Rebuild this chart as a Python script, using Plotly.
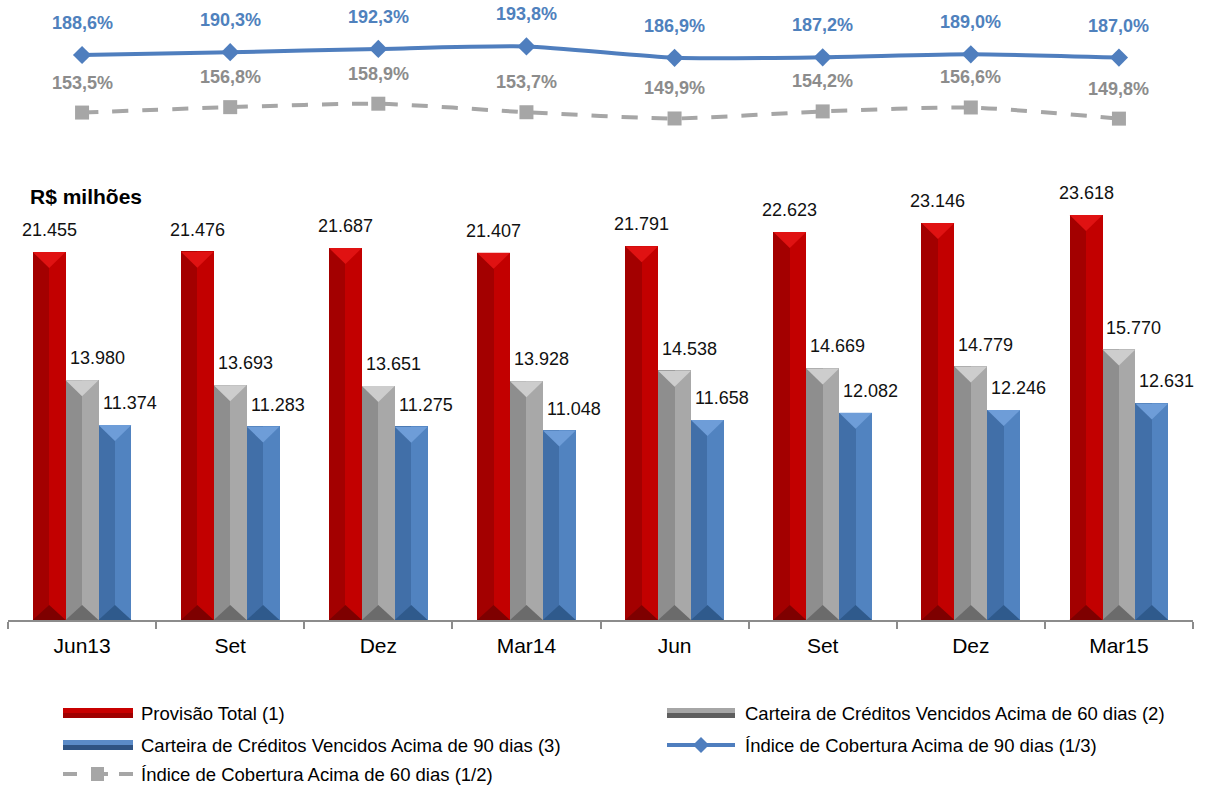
import plotly.graph_objects as go

# ---- data -----------------------------------------------------------------
periodos = ["Jun13", "Set", "Dez", "Mar14", "Jun", "Set", "Dez", "Mar15"]
provisao_total = [21455, 21476, 21687, 21407, 21791, 22623, 23146, 23618]
vencidos_60 = [13980, 13693, 13651, 13928, 14538, 14669, 14779, 15770]
vencidos_90 = [11374, 11283, 11275, 11048, 11658, 12082, 12246, 12631]
cobertura_90 = [188.6, 190.3, 192.3, 193.8, 186.9, 187.2, 189.0, 187.0]
cobertura_60 = [153.5, 156.8, 158.9, 153.7, 149.9, 154.2, 156.6, 149.8]

FONT = "Liberation Sans, Arial, sans-serif"
W, H = 1206, 787
ML, MR = 8, 13
PW = W - ML - MR


def py(pix):
    """page pixel row -> paper fraction (no top/bottom margin)"""
    return 1 - pix / H


def px(pix):
    """page pixel column -> paper fraction"""
    return (pix - ML) / PW


def fmt_milhar(v):
    return f"{v:,}".replace(",", ".")


def fmt_pct(v):
    return f"{v:.1f}%".replace(".", ",")


idx = list(range(len(periodos)))
half = 0.111  # half of a bar width, in category units

# series: values, bar centre offset, (left, right, top, bottom) shades
series = [
    ("Provisão Total (1)", provisao_total, -2 * half,
     ("#A30000", "#C20000", "#E01212", "#7E0000")),
    ("Carteira de Créditos Vencidos Acima de 60 dias (2)", vencidos_60, 0.0,
     ("#8E8E8E", "#A8A8A8", "#CDCDCD", "#6B6B6B")),
    ("Carteira de Créditos Vencidos Acima de 90 dias (3)", vencidos_90, 2 * half,
     ("#416FA8", "#5183C0", "#6E9DD8", "#2F5A8C")),
]

fig = go.Figure()
shapes = []
annotations = []

for name, vals, off, (c_left, c_right, c_top, c_bot) in series:
    # left (shaded) and right (lit) halves of each bevelled bar
    fig.add_trace(go.Bar(
        x=[i + off - half / 2 for i in idx], y=vals, width=half,
        marker=dict(color=c_left, line=dict(width=0)),
        name=name, showlegend=False, hoverinfo="skip"))
    fig.add_trace(go.Bar(
        x=[i + off + half / 2 for i in idx], y=vals, width=half,
        marker=dict(color=c_right, line=dict(width=0)),
        name=name, showlegend=False))
    for i, v in zip(idx, vals):
        x0, x1, xc = i + off - half, i + off + half, i + off
        # chevron on top of the bar
        shapes.append(dict(
            type="path", xref="x", yref="y", ysizemode="pixel", yanchor=v,
            path=f"M{x0},0 L{x1},0 L{xc},-16 Z",
            fillcolor=c_top, line=dict(width=0), layer="above"))
        # darker wedge at the foot of the bar
        shapes.append(dict(
            type="path", xref="x", yref="y", ysizemode="pixel", yanchor=0,
            path=f"M{x0},0 L{x1},0 L{xc},15 Z",
            fillcolor=c_bot, line=dict(width=0), layer="above"))
        annotations.append(dict(
            x=xc, y=v, xref="x", yref="y", text=fmt_milhar(v),
            showarrow=False, yshift=22, xshift=0 if off < 0 else 15,
            font=dict(family=FONT, size=18, color="#111111"),
            xanchor="center", yanchor="middle"))

# coverage ratios (upper panel)
fig.add_trace(go.Scatter(
    x=idx, y=cobertura_90, xaxis="x2", yaxis="y2", mode="lines+markers",
    name="Índice de Cobertura Acima de 90 dias (1/3)", showlegend=False,
    line=dict(color="#4F7EBE", width=4, shape="spline", smoothing=0.6),
    marker=dict(symbol="diamond", size=14, color="#4F7EBE")))
fig.add_trace(go.Scatter(
    x=idx, y=cobertura_60, xaxis="x2", yaxis="y2", mode="lines+markers",
    name="Índice de Cobertura Acima de 60 dias (1/2)", showlegend=False,
    line=dict(color="#A6A6A6", width=4, dash="16px,14px", shape="spline",
              smoothing=0.6),
    marker=dict(symbol="square", size=14, color="#A6A6A6")))

for i, v in zip(idx, cobertura_90):
    annotations.append(dict(
        x=i, y=v, xref="x2", yref="y2", text=f"<b>{fmt_pct(v)}</b>",
        showarrow=False, yshift=32,
        font=dict(family=FONT, size=18, color="#4F81BD"),
        xanchor="center", yanchor="middle"))
for i, v in zip(idx, cobertura_60):
    annotations.append(dict(
        x=i, y=v, xref="x2", yref="y2", text=f"<b>{fmt_pct(v)}</b>",
        showarrow=False, yshift=30,
        font=dict(family=FONT, size=18, color="#8C8C8C"),
        xanchor="center", yanchor="middle"))

annotations.append(dict(
    x=px(28), y=py(196), xref="paper", yref="paper", text="<b>R$ milhões</b>",
    showarrow=False, xanchor="left", yanchor="middle",
    font=dict(family=FONT, size=21, color="#000000")))

# ---- legend (drawn by hand, two columns) ------------------------------------
legend_font = dict(family=FONT, size=18.5, color="#000000")


def legend_bar(x0, x1, yc, c_light, c_dark):
    shapes.append(dict(type="rect", xref="paper", yref="paper",
                       x0=px(x0), x1=px(x1), y0=py(yc - 5), y1=py(yc),
                       fillcolor=c_light, line=dict(width=0)))
    shapes.append(dict(type="rect", xref="paper", yref="paper",
                       x0=px(x0), x1=px(x1), y0=py(yc + 5), y1=py(yc),
                       fillcolor=c_dark, line=dict(width=0)))


def legend_text(x, yc, text):
    annotations.append(dict(x=px(x), y=py(yc), xref="paper", yref="paper",
                            text=text, showarrow=False, xanchor="left",
                            yanchor="middle", font=legend_font))


rows = [713, 745, 774]
legend_bar(63, 133, rows[0], "#C80000", "#A00000")
legend_text(139, rows[0], series[0][0])
legend_bar(667, 735, rows[0], "#A6A6A6", "#5E5E5E")
legend_text(743, rows[0], series[1][0])
legend_bar(63, 133, rows[1], "#5B8BC8", "#2F5383")
legend_text(139, rows[1], series[2][0])

# blue line + diamond
shapes.append(dict(type="line", xref="paper", yref="paper",
                   x0=px(667), x1=px(735), y0=py(rows[1]), y1=py(rows[1]),
                   line=dict(color="#4F7EBE", width=4)))
shapes.append(dict(type="path", xref="paper", yref="paper",
                   xsizemode="pixel", ysizemode="pixel",
                   xanchor=px(701), yanchor=py(rows[1]),
                   path="M-8,0 L0,8 L8,0 L0,-8 Z",
                   fillcolor="#4F7EBE", line=dict(width=0)))
legend_text(743, rows[1], "Índice de Cobertura Acima de 90 dias (1/3)")

# grey dashed line + square
shapes.append(dict(type="line", xref="paper", yref="paper",
                   x0=px(63), x1=px(77), y0=py(rows[2]), y1=py(rows[2]),
                   line=dict(color="#A6A6A6", width=4)))
shapes.append(dict(type="line", xref="paper", yref="paper",
                   x0=px(119), x1=px(133), y0=py(rows[2]), y1=py(rows[2]),
                   line=dict(color="#A6A6A6", width=4)))
shapes.append(dict(type="rect", xref="paper", yref="paper",
                   x0=px(91), x1=px(104), y0=py(rows[2] - 7), y1=py(rows[2] + 7),
                   fillcolor="#A6A6A6", line=dict(width=0)))
shapes.append(dict(type="line", xref="paper", yref="paper",
                   x0=px(104), x1=px(108), y0=py(rows[2]), y1=py(rows[2]),
                   line=dict(color="#A6A6A6", width=4)))
legend_text(139, rows[2], "Índice de Cobertura Acima de 60 dias (1/2)")

# ---- axes ----------------------------------------------------------------
bar_scale = 0.01715  # pixels per R$ milhão
bar_top_px = 191.25
bar_range = [0, (620 - bar_top_px) / bar_scale]

line_scale = 1.64  # pixels per percentage point
ref_v, ref_px = 188.6, 55
line_range = [ref_v - (130 - ref_px) / line_scale,
              ref_v + (ref_px - 30) / line_scale]

fig.update_layout(
    width=W, height=H,
    margin=dict(l=ML, r=MR, t=0, b=0, pad=0),
    paper_bgcolor="white", plot_bgcolor="white",
    barmode="overlay", bargap=0,
    showlegend=False,
    font=dict(family=FONT, color="#000000"),
    xaxis=dict(
        range=[-0.5, 7.5], tickmode="array", tickvals=idx, ticktext=periodos,
        ticks="", showgrid=False, zeroline=False,
        showline=True, linecolor="#8C8C8C", linewidth=2,
        tickfont=dict(family=FONT, size=21, color="#000000"),
        ticklabelstandoff=6,
        minor=dict(tickmode="array",
                   tickvals=[i - 0.5 for i in range(len(periodos) + 1)],
                   ticks="outside", ticklen=7, tickwidth=2,
                   tickcolor="#8C8C8C", showgrid=False),
        fixedrange=True, anchor="y"),
    yaxis=dict(domain=[py(620), py(bar_top_px)], range=bar_range,
               visible=False, fixedrange=True),
    xaxis2=dict(range=[-0.5, 7.5], anchor="y2", visible=False,
                matches=None, fixedrange=True),
    yaxis2=dict(domain=[py(130), py(30)], range=line_range, anchor="x2",
                visible=False, fixedrange=True),
    shapes=shapes,
    annotations=annotations,
)

fig.write_html("out.html")
